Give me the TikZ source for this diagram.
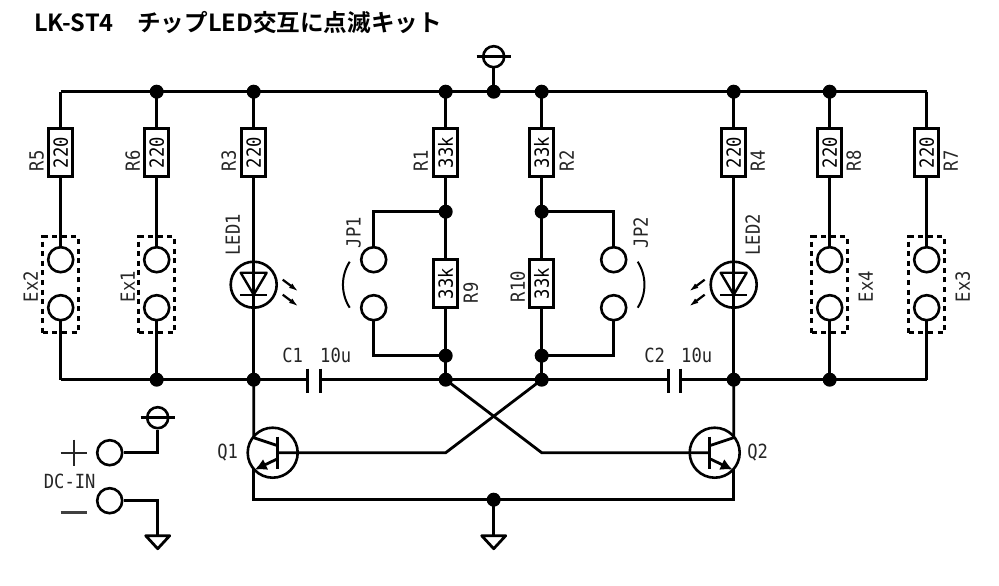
\documentclass[tikz,border=0pt]{standalone}
\usepackage{fontspec}
\usetikzlibrary{arrows.meta}
\newfontfamily\lblfont[FakeStretch=0.88]{DejaVu Sans Mono}
\newfontfamily\jpfont{Noto Sans CJK JP}[BoldFont=* Bold]
\tikzset{
    wire/.style={line width=2.8pt, line cap=square},
    res/.style={draw, line width=2.6pt, fill=white, rotate=90, minimum width=48pt, minimum height=24pt, inner sep=0pt, font=\lblfont\fontsize{19.5}{19.5}\selectfont},
    pad/.style={draw, circle, line width=2.6pt, fill=white, minimum size=25pt, inner sep=0pt},
    dot/.style={fill=black, circle, minimum size=14pt, inner sep=0pt},
    lbl/.style={inner sep=0pt, text=black!85, font=\lblfont\fontsize{19.5}{19.5}\selectfont},
    vlbl/.style={lbl, rotate=90},
    exbox/.style={draw, line width=2.8pt, dash pattern=on 5pt off 4.6pt, minimum width=36pt, minimum height=96pt, inner sep=0pt},
    qbody/.style={draw, circle, line width=2.6pt, minimum size=50pt, inner sep=0pt},
    ledbody/.style={draw, circle, line width=2.6pt, minimum size=46pt, inner sep=0pt},
    vccbody/.style={draw, circle, line width=2.6pt, minimum size=21pt, inner sep=0pt}
}

\begin{document}
\begin{tikzpicture}[x=1pt, y=-1pt]
    \useasboundingbox (-0.7,-0.7) rectangle (998.3,585.3);

    % Title
    \node[anchor=west, inner sep=0pt] (title) at (33.3,21.5) {\jpfont\bfseries\fontsize{23.6}{23.6}\selectfont LK-ST4　チップLED交互に点滅キット};

    % Rails
    \coordinate (tl) at (60,91);
    \coordinate (tr) at (926,91);
    \coordinate (bl) at (60,379);
    \coordinate (br) at (926,379);
    \coordinate (p1a) at (307,379);
    \coordinate (p1b) at (320,379);
    \coordinate (p2a) at (668,379);
    \coordinate (p2b) at (680,379);
    \draw[wire] (tl) -- (tr);
    \draw[wire] (bl) -- (p1a);
    \draw[wire] (p1b) -- (p2a);
    \draw[wire] (p2b) -- (br);

    % Resistors on the top rail
    \foreach \name/\x/\val in {R5/60/220, R6/156/220, R3/253/220, R1/445/33k, R2/541/33k, R4/733/220, R8/829/220, R7/926/220} {
        \coordinate (top\name) at (\x,91);
        \draw[wire] (top\name) -- (\x,130);
        \node[res] (\name) at (\x,152) {\val};
    }
    \foreach \name/\x in {R5/36, R6/132, R3/228, R1/420, R2/566, R4/757, R8/853, R7/950}
        \node[vlbl] (l\name) at (\x,160) {\name};

    % External switch pads
    \foreach \name/\x/\rname/\lx in {Ex2/60/R5/30, Ex1/156/R6/127, Ex4/829/R8/865, Ex3/926/R7/962} {
        \node[exbox] (box\name) at (\x,284) {};
        \coordinate (bot\name) at (\x,379);
        \draw[wire] (\rname.west) -- (\x,250);
        \draw[wire] (\x,315) -- (bot\name);
        \node[pad] (a\name) at (\x,259) {};
        \node[pad] (b\name) at (\x,307) {};
        \node[vlbl] (l\name) at (\lx,286) {\name};
    }

    % LEDs
    \node[ledbody] (LED1) at (253,284) {};
    \node[ledbody] (LED2) at (733,284) {};
    \coordinate (botLED1) at (253,379);
    \foreach \led/\rname/\x/\s in {LED1/R3/253/1, LED2/R4/733/-1} {
        \draw[wire] (\rname.west) -- (\led.south |- botLED1);
        \draw[line width=2.4pt, line join=round] (\x-13,272) -- (\x+13,272) -- (\x,294) -- cycle;
        \draw[line width=2.4pt] (\x-13.5,294) -- (\x+13.5,294);
        \draw[line width=2.2pt, -{Latex[length=10pt,width=5.5pt]}] (\x+\s*29,279) -- (\x+\s*45,291);
        \draw[line width=2.2pt, -{Latex[length=10pt,width=5.5pt]}] (\x+\s*29,294) -- (\x+\s*45,306);
    }
    \node[vlbl] (lLED1) at (232,234) {LED1};
    \node[vlbl] (lLED2) at (752,234) {LED2};

    % Jumpers
    \foreach \x/\jx/\rtop/\rname/\s/\jname in {445/373/R1/R9/-1/JP1, 541/613/R2/R10/1/JP2} {
        \coordinate (up\jname) at (\x,211);
        \coordinate (lo\jname) at (\x,355);
        \coordinate (ra\jname) at (\x,379);
        \draw[wire] (\rtop.west) -- (up\jname) -- (\x,262);
        \node[res] (\rname) at (\x,283) {33k};
        \draw[wire] (\rname.west) -- (lo\jname) -- (ra\jname);
        \draw[wire] (up\jname) -| (\jx,250);
        \draw[wire] (lo\jname) -| (\jx,315);
        \node[pad] (a\jname) at (\jx,259) {};
        \node[pad] (b\jname) at (\jx,307) {};
        \draw[line width=2pt] (\jx+\s*24,261) .. controls (\jx+\s*33,275) and (\jx+\s*33,293) .. (\jx+\s*24,307);
        \node[dot] (dup\jname) at (up\jname) {};
        \node[dot] (dlo\jname) at (lo\jname) {};
    }
    \node[vlbl] (lJP1) at (353,232) {JP1};
    \node[vlbl] (lJP2) at (640,232) {JP2};
    \node[vlbl] (lR9) at (470,292) {R9};
    \node[vlbl] (lR10) at (517,286) {R10};

    % Capacitors
    \foreach \x in {307,320,668,680}
        \draw[line width=2.6pt] (\x,368) -- (\x,392);
    \node[lbl] (lC1) at (292,355) {C1};
    \node[lbl] (vC1) at (335,355) {10u};
    \node[lbl] (lC2) at (654,355) {C2};
    \node[lbl] (vC2) at (696,355) {10u};

    % Transistors
    \node[qbody] (Q1) at (272,452) {};
    \node[qbody] (Q2) at (714,452) {};
    \coordinate (eb) at (493,499);
    \coordinate (kQ1) at (445,452);
    \coordinate (kQ2) at (541,452);
    \coordinate (xQ1) at (541,379);
    \coordinate (xQ2) at (445,379);
    \foreach \x/\q/\s in {253/Q1/1, 733/Q2/-1} {
        \draw[line width=2.6pt] (\x+\s*24,436) -- (\x+\s*24,468);
        \draw[wire] (\x,379) -- (\x,437) -- (\x+\s*24,445);
        \draw[wire, -{Latex[length=12pt,width=12pt]}] (\x+\s*24,458) -- (\x+\s*1,469);
        \draw[wire] (\x,468) -- (\x,499) -- (eb);
    }
    \draw[wire] (277,452) -- (kQ1) -- (xQ1);
    \draw[wire] (709,452) -- (kQ2) -- (xQ2);
    \node[lbl] (lQ1) at (227,452) {Q1};
    \node[lbl] (lQ2) at (757,452) {Q2};

    % Supply and ground
    \coordinate (vcc) at (493,91);
    \node[vccbody] (Vtop) at (493,56) {};
    \coordinate (Vl) at (476,56);
    \coordinate (Vr) at (510,56);
    \draw[wire] (Vl) -- (Vr);
    \draw[wire] (Vtop) -- (vcc);
    \coordinate (gnd) at (493,535);
    \draw[wire] (eb) -- (gnd);
    \draw[wire, fill=white, line join=round] (481,535) -- (505,535) -- (493,548) -- cycle;

    % DC input
    \node[pad] (plus) at (109,452) {};
    \node[pad] (minus) at (109,500) {};
    \draw[line width=2.4pt, black!85] (60,452) -- (86,452) (73,439) -- (73,465);
    \draw[line width=2.8pt, black!75] (60,512) -- (86,512);
    \node[lbl] (lDC) at (69,481) {DC-IN};
    \node[vccbody] (Vin) at (157,417) {};
    \coordinate (Vinl) at (140,417);
    \coordinate (Vinr) at (174,417);
    \draw[wire] (Vinl) -- (Vinr);
    \draw[wire] (plus) -| (Vin);
    \coordinate (gin) at (157,535);
    \draw[wire] (minus) -| (gin);
    \draw[wire, fill=white, line join=round] (145,535) -- (169,535) -- (157,548) -- cycle;

    % Junctions
    \foreach \x/\y in {156/91, 253/91, 445/91, 493/91, 541/91, 733/91, 829/91, 156/379, 253/379, 445/379, 541/379, 733/379, 829/379, 493/499}
        \node[dot] at (\x,\y) {};
\end{tikzpicture}
\end{document}
